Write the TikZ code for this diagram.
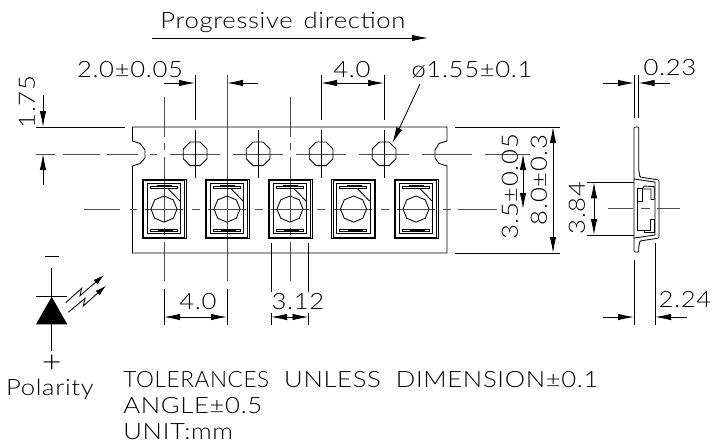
\documentclass[tikz,border=0pt]{standalone}
\usepackage{fontspec}
\setmainfont[FakeStretch=1.14,LetterSpace=3]{Lato Light}
\usetikzlibrary{arrows.meta}

\begin{document}
\begin{tikzpicture}[x=1pt, y=-1pt, line width=0.85pt]
    %drawing styles
\tikzset{
    dimarrow/.style={-{Latex[length=16pt, width=6.5pt]}},
    dimboth/.style={{Latex[length=16pt, width=6.5pt]}-{Latex[length=16pt, width=6.5pt]}},
    axisline/.style={black!70},
    cadtext/.style={font=\fontsize{22.5}{22.5}\selectfont, inner sep=0pt},
    sidetext/.style={cadtext, rotate=90}
}
    \useasboundingbox (0,0) rectangle (713,445);

    %carrier strip
    \draw (132.5,127) -- (447,127) -- (447,141) -- (439,143.5) -- (435,150) -- (435,158) -- (439,163.5) -- (447,166) -- (447,253)
        -- (132.5,253) -- (132.5,166) -- (140,163.5) -- (145,158) -- (145,150) -- (140,143.5) -- (132.5,141) -- cycle;
    \draw (36,127) -- (125,127);
    \draw (455,127) -- (560,127);
    \draw (455,253) -- (560,253);

    %centre lines
    \foreach \from/\to in {36/55,63/100,107/138,150/157,170/220,233/283,296/346,359/409,422/472,485/530}
        \draw[axisline] (\from,154) -- (\to,154);
    \foreach \from/\to in {84/120,130/137,145/183,192/200,208/246,255/263,271/309,317/325,334/372,381/389,397/435,443/451,458/497}
        \draw[axisline] (\from,209) -- (\to,209);
    \foreach \linex in {164,290}
        \foreach \from/\to in {97/137,143/150,157/222,228/235,242/281}
            \draw[axisline] (\linex,\from) -- (\linex,\to);
    \draw[axisline] (227,75) -- (227,281);

    %sprocket holes
    \foreach \holex in {195,258,321,384}{
        \draw (\holex-4.8,142) \foreach \a in {0,...,6}{ -- ++(\a*45:9.8) } -- cycle;
        \draw (\holex,130) -- (\holex,178);
    }

    %LED cells
    \foreach \ledx in {164,227,290,353.5,416}{
        \begin{scope}[shift={(\ledx,209)}]
            \draw (-22,-30) rectangle (22,29.5);
            \draw (-20.5,-28.5) rectangle (20.5,28);
            \draw (-16.7,-25.7) rectangle (16.7,24.3);
            \draw (-14,-23) rectangle (13,-20.7);
            \draw (-14,20.3) rectangle (13,22.3);
            \draw[line width=1.6pt] (-7,-23) -- (8,-23);
            \draw[line width=1.6pt] (-6,21.5) -- (9,21.5);
            \draw (3.7,-20.7) -- (16,-8);
            \draw (0,-13) \foreach \a in {1,...,7}{ -- ++(\a*45-22.5:10) } -- cycle;
        \end{scope}
    }

    %top dimensions
    \node[cadtext, anchor=west](Progressive) at (160,22) {Progressive\hspace{11pt}direction};
    \draw[dimarrow] (152,38) -- (428,38);
    \node[cadtext](TwoPitch) at (130,70) {2.0±0.05};
    \draw (195,75) -- (195,120);
    \draw (321,75) -- (321,120);
    \draw (384,75) -- (384,120);
    \draw[dimarrow] (164,83) -- (195,83);
    \draw[dimarrow] (258,83) -- (227,83);
    \node[cadtext](FourTop) at (352,70) {4.0};
    \draw[dimboth] (321,83) -- (384,83);
    \node[cadtext](HoleDia) at (472,70) {ø1.55±0.1};
    \draw[dimarrow] (420,84) -- (392.5,143);

    %left dimension
    \node[sidetext](EdgeDim) at (27,102) {1.75};
    \draw[dimarrow] (43,95) -- (43,127);
    \draw[dimarrow] (43,185) -- (43,154);

    %right dimensions
    \node[sidetext](RowDim) at (510,187) {3.5±0.05};
    \draw[dimboth] (523,154) -- (523,209);
    \node[sidetext](WidthDim) at (539,180) {8.0±0.3};
    \draw[dimboth] (553,127) -- (553,253);

    %bottom dimensions
    \draw (164,289) -- (164,325);
    \draw (227,289) -- (227,325);
    \node[cadtext](FourBottom) at (198,302) {4.0};
    \draw[dimboth] (164,317) -- (227,317);
    \draw (271,243) -- (271,292) (271,313) -- (271,325);
    \draw (308.5,243) -- (308.5,292) (308.5,313) -- (308.5,325);
    \node[cadtext](BodyDim) at (298,302) {3.12};
    \draw[dimboth] (271,317) -- (308.5,317);

    %side view
    \draw (634,75) -- (634,118);
    \draw (638.5,75) -- (638.5,118);
    \draw[dimarrow] (603,83) -- (634,83);
    \draw[dimarrow] (670,83) -- (638.5,83);
    \node[cadtext](ThickDim) at (670,68) {0.23};
    \draw[rounded corners=1pt] (634,252) -- (634,127) -- (638.7,127) -- (638.7,170) -- (640,177) -- (659,180)
        -- (659,238) -- (640,241) -- (638.7,247) -- (638.7,252) -- cycle;
    \draw (634,179) -- (655,182) -- (655,235) -- (634,238);
    \draw (637.5,188.5) rectangle (642.7,201.7);
    \draw (642.7,188.5) -- (644,186) -- (654.3,186.7) -- (654.3,199.5) -- (651,199.5) -- (651,189) -- (642.7,189);
    \draw (637.5,201.7) -- (637.5,230) -- (650.7,230) -- (650.7,219.3) -- (654.3,219.3) -- (654.3,232) -- (644,232) -- (644,230);
    \draw[axisline] (608,208) -- (633,208) (641,208) -- (650,208) (657,208) -- (680,208);
    \draw (587,182.3) -- (634,182.3);
    \draw (587,235) -- (634,235);
    \draw[dimboth] (594,182.3) -- (594,235);
    \node[sidetext](ChipDim) at (577,208) {3.84};
    \draw (634,260) -- (634,325);
    \draw (655,243) -- (655,325);
    \draw[dimarrow] (603,317) -- (634,317);
    \draw[dimarrow] (687,317) -- (655,317);
    \node[cadtext](DepthDim) at (685,300) {2.24};

    %polarity symbol
    \node[cadtext](Minus) at (51.7,256.7) {\rule{14pt}{0.85pt}};
    \draw (51.7,268) -- (51.7,350.7);
    \draw (36,296.7) -- (67.3,296.7);
    \fill (51.7,296.7) -- (67.3,324.3) -- (36,324.3) -- cycle;
    \draw[-{Latex[length=11pt, width=6pt]}] (65.7,302.7) -- (81.7,288.3) -- (80,295.7) -- (104,275);
    \draw[-{Latex[length=11pt, width=6pt]}] (68.3,312.3) -- (85,298.3) -- (83.3,306) -- (106,285.7);
    \node[cadtext, font=\fontsize{30}{30}\selectfont](Plus) at (51.7,364) {+};
    \node[cadtext](Polarity) at (50,389) {Polarity};

    %notes
    \node[cadtext, anchor=west](Tolerances) at (123,380) {\scalebox{0.88}[1]{TOLERANCES}\hspace{15pt}UNLESS\hspace{15pt}DIMENSION±0.1};
    \node[cadtext, anchor=west](AngleNote) at (123,405.7) {ANGLE±0.5};
    \node[cadtext, anchor=west](UnitNote) at (123,431.7) {UNIT:mm};
\end{tikzpicture}
\end{document}
